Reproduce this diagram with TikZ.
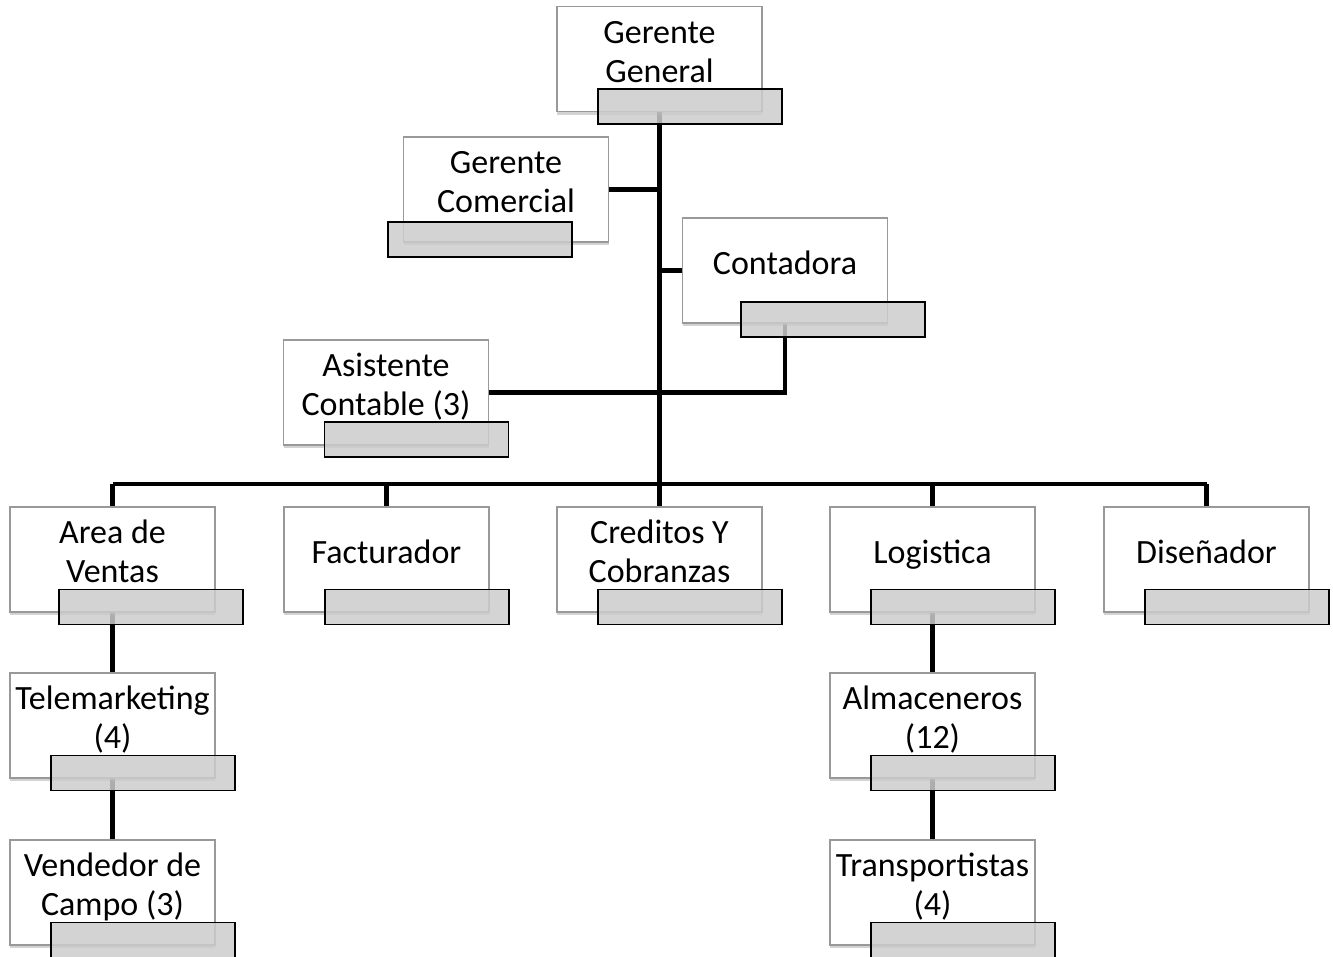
\documentclass[tikz,border=0pt]{standalone}
\usepackage{fontspec}
\setmainfont{Carlito}
\usetikzlibrary{positioning}
\usetikzlibrary{shadows}

\pgfdeclarelayer{background}
\pgfsetlayers{background,main}

\tikzset{
  caja/.style={draw=black!40, line width=1.5pt, fill=white, minimum width=205, minimum height=105,
    inner sep=0pt, drop shadow={opacity=0.35, shadow xshift=0pt, shadow yshift=-3pt}},
  texto/.style={align=center, inner sep=0pt, font=\fontsize{34}{39}\selectfont},
  barra/.style={draw=black, line width=1.5pt, fill=black!20, fill opacity=0.85,
    minimum width=184, minimum height=35, inner sep=0pt},
  linea/.style={line width=4.5pt}
}

% caja, texto y barra gris de cada puesto
\newcommand{\puesto}[5]{%
  \node[caja] (#1) at (#2) {};
  \node[texto] (#1-t) at ([yshift=4pt]#1.center) {\strut#3\strut};
  \node[barra] (#1-b) at ([shift={(#4,#5)}]#1.center) {};
}

\begin{document}
\begin{tikzpicture}[x=1pt,y=-1pt]
    \useasboundingbox (0,0) rectangle (1333,956);

    \puesto{gg}{659.5,59}{Gerente\\General}{30.5}{47.5}
    \puesto{gc}{506,189.5}{Gerente\\Comercial}{-26}{50}
    \puesto{cont}{785,270.5}{Contadora}{48}{49}
    \puesto{asis}{386,392.5}{Asistente\\Contable (3)}{30.5}{47}

    \puesto{ventas}{112.5,559.5}{Area de\\Ventas}{38.5}{47.5}
    \puesto{fact}{386.5,559.5}{Facturador}{30.5}{47.5}
    \puesto{cred}{659.5,559.5}{Creditos Y\\Cobranzas}{30.5}{47.5}
    \puesto{logi}{932.5,559.5}{Logistica}{30.5}{47.5}
    \puesto{dis}{1206.5,559.5}{Diseñador}{30.5}{47.5}

    \puesto{tele}{112.5,725.5}{Telemarketing\\(4)}{30.5}{47.5}
    \puesto{alm}{932.5,725.5}{Almaceneros\\(12)}{30.5}{47.5}
    \puesto{vend}{112.5,892.5}{Vendedor de\\Campo (3)}{30.5}{47.5}
    \puesto{trans}{932.5,892.5}{Transportistas\\(4)}{30.5}{47.5}

    \coordinate (bus) at (659.5,484);

    \begin{pgfonlayer}{background}
    \draw[linea] (gg.center) -- (cred.center);
    \draw[linea] (gc.center) -- (gc.center -| gg.center);
    \draw[linea] (cont.center) -- (cont.center -| gg.center);
    \draw[linea] (asis.center) -| (cont.center);
    \draw[linea] (ventas |- bus) -- (dis |- bus);
    \foreach \p in {ventas,fact,logi,dis}
      \draw[linea] (\p |- bus) -- (\p.center);
    \draw[linea] (ventas.center) -- (tele.center) -- (vend.center);
    \draw[linea] (logi.center) -- (alm.center) -- (trans.center);
    \end{pgfonlayer}
\end{tikzpicture}
\end{document}
